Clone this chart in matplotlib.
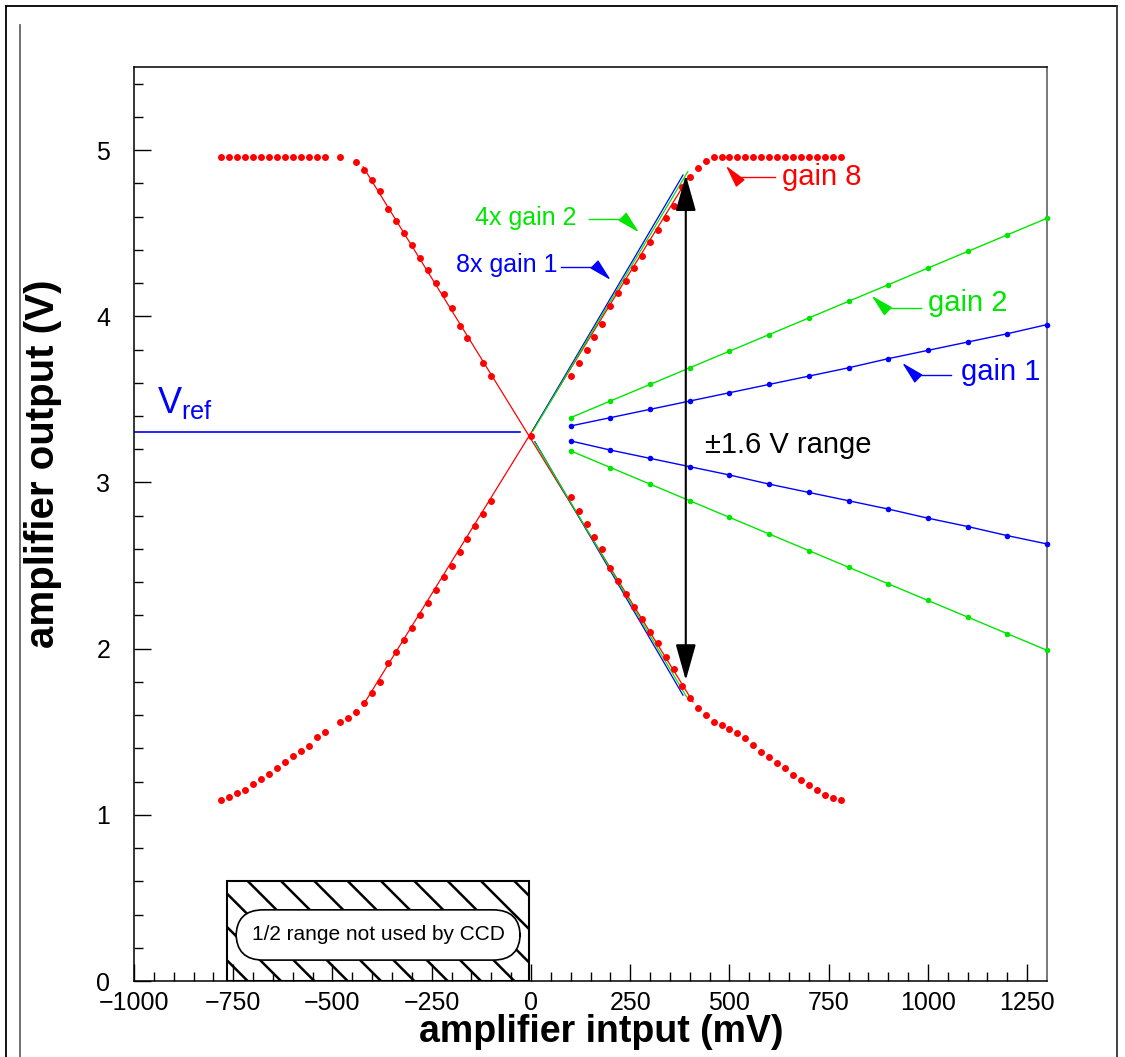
import matplotlib
matplotlib.use('Agg')
import matplotlib.pyplot as plt
from matplotlib.patches import Rectangle
from matplotlib.lines import Line2D

plt.rcParams['font.family'] = ['Liberation Sans', 'DejaVu Sans']
plt.rcParams['mathtext.fontset'] = 'custom'
plt.rcParams['mathtext.rm'] = 'Liberation Sans'
plt.rcParams['hatch.linewidth'] = 1.8

# gain 8 measurement, four branches (mV, V)
ul_x = [-780, -760, -740, -720, -700, -680, -660, -640, -620, -600, -580, -560, -540, -520,
        -480, -440, -420, -400, -380, -360, -340, -320, -300, -280, -260, -240, -220, -200,
        -180, -160, -120, -100]
ul_y = [4.96, 4.96, 4.96, 4.96, 4.96, 4.96, 4.96, 4.96, 4.96, 4.96, 4.96, 4.96, 4.96, 4.96,
        4.96, 4.926, 4.88, 4.82, 4.755, 4.645, 4.575, 4.503, 4.427, 4.348, 4.276, 4.20, 4.132, 4.051,
        3.943, 3.869, 3.717, 3.642]
ur_x = [100, 120, 140, 160, 180, 200, 220, 240, 260, 280, 300, 320, 340, 360, 380, 400, 420, 440,
        460, 480, 500, 520, 540, 560, 580, 600, 620, 640, 660, 680, 700, 720, 740, 760, 780]
ur_y = [3.64, 3.72, 3.80, 3.873, 3.951, 4.063, 4.143, 4.212, 4.292, 4.364, 4.444, 4.519, 4.589,
        4.663, 4.776, 4.84, 4.894, 4.936, 4.956, 4.96, 4.96, 4.96, 4.96, 4.96, 4.96, 4.96, 4.96,
        4.96, 4.96, 4.96, 4.96, 4.96, 4.96, 4.96, 4.96]
ll_x = [-780, -760, -740, -720, -700, -680, -660, -640, -620, -600, -580, -560, -540, -520,
        -480, -460, -440, -420, -400, -380, -360, -340, -320, -300, -280, -260, -240, -220,
        -200, -180, -160, -140, -120, -100]
ll_y = [1.09, 1.107, 1.131, 1.151, 1.183, 1.213, 1.245, 1.28, 1.316, 1.352, 1.384, 1.414, 1.466, 1.50,
        1.557, 1.581, 1.617, 1.671, 1.731, 1.797, 1.912, 1.981, 2.05, 2.124, 2.20, 2.274, 2.35, 2.43,
        2.50, 2.58, 2.66, 2.74, 2.81, 2.89]
lr_x = [100, 120, 140, 160, 180, 200, 220, 240, 260, 280, 300, 320, 340, 360, 380, 400, 420, 440,
        460, 480, 500, 520, 540, 560, 580, 600, 620, 640, 660, 680, 700, 720, 740, 760, 780]
lr_y = [2.91, 2.828, 2.75, 2.673, 2.599, 2.483, 2.407, 2.33, 2.252, 2.178, 2.102, 2.032, 1.951,
        1.879, 1.775, 1.701, 1.644, 1.60, 1.56, 1.54, 1.516, 1.49, 1.46, 1.42, 1.38, 1.35, 1.31,
        1.28, 1.24, 1.21, 1.18, 1.15, 1.12, 1.10, 1.09]
x0_mv, x0_v = 0, 3.28

# straight-line fits over the gain 8 linear region
fit_up_x, fit_up_y = [-420, 398], [1.671, 4.84]
fit_dn_x, fit_dn_y = [-423, 408], [4.90, 1.68]

# gain 1 and gain 2
g_x = [100, 200, 300, 400, 500, 600, 700, 800, 900, 1000, 1100, 1200, 1300]
g2_up = [3.39, 3.49, 3.59, 3.69, 3.79, 3.89, 3.99, 4.09, 4.19, 4.29, 4.39, 4.49, 4.59]
g1_up = [3.34, 3.39, 3.44, 3.49, 3.54, 3.59, 3.64, 3.69, 3.745, 3.795, 3.845, 3.895, 3.95]
g1_dn = [3.25, 3.195, 3.145, 3.095, 3.045, 2.99, 2.94, 2.89, 2.84, 2.785, 2.735, 2.68, 2.63]
g2_dn = [3.19, 3.09, 2.99, 2.89, 2.79, 2.69, 2.59, 2.49, 2.39, 2.29, 2.19, 2.09, 1.99]

# scaled gain 1 (8x) and gain 2 (4x)
s8_up_x, s8_up_y = [5, 383], [3.315, 4.85]
s8_dn_x, s8_dn_y = [10, 383], [3.245, 1.72]
s4_up_x, s4_up_y = [5, 395], [3.31, 4.87]
s4_dn_x, s4_dn_y = [10, 392], [3.24, 1.71]

vref = 3.303
range_lo, range_hi, range_x = 1.81, 4.85, 390

RED = '#ff0000'
GREEN = '#00e600'
BLUE = '#0000ff'

fig = plt.figure(figsize=(11.25, 10.57), dpi=100)
ax = fig.add_axes([0.1191, 0.0719, 0.8116, 0.8647])

ax.add_patch(Rectangle((-765, 0), 760, 0.6, facecolor='white', edgecolor='black',
                       hatch='\\', lw=1.5, zorder=1))
ax.text(-385, 0.277, '1/2 range not used by CCD', ha='center', va='center', fontsize=15,
        bbox=dict(boxstyle='round,pad=0.75,rounding_size=1.3', fc='white', ec='black', lw=1.2),
        zorder=2)

ax.plot([-1000, -28], [vref, vref], color=BLUE, lw=1.2)
ax.text(-942, 3.418, r'V$_{\mathrm{ref}}$', color=BLUE, fontsize=26, va='baseline')

ax.plot(fit_up_x, fit_up_y, color=RED, lw=0.9)
ax.plot(fit_dn_x, fit_dn_y, color=RED, lw=0.9)
ax.plot(s8_up_x, s8_up_y, color=BLUE, lw=0.9)
ax.plot(s8_dn_x, s8_dn_y, color=BLUE, lw=0.9)
ax.plot(s4_up_x, s4_up_y, color=GREEN, lw=0.9)
ax.plot(s4_dn_x, s4_dn_y, color=GREEN, lw=0.9)

for xs, ys in [(ul_x, ul_y), (ur_x, ur_y), (ll_x, ll_y), (lr_x, lr_y), ([x0_mv], [x0_v])]:
    ax.plot(xs, ys, 'o', color=RED, ms=5, mew=0, zorder=4)

for ys, c in [(g2_up, GREEN), (g1_up, BLUE), (g1_dn, BLUE), (g2_dn, GREEN)]:
    ax.plot(g_x, ys, '-o', color=c, lw=1.0, ms=4, mew=0, clip_on=False, zorder=4)

ax.annotate('', xy=(range_x, range_hi), xytext=(range_x, range_lo),
            arrowprops=dict(arrowstyle='<|-|>,head_length=1.6,head_width=0.45', color='black',
                            lw=1.5, shrinkA=0, shrinkB=0, mutation_scale=14), zorder=5)
ax.text(438, 3.225, u'\u00b11.6 V range', fontsize=21, va='center')


def label(text, tx, ty, size, hx0, hx1, hy, tip, color):
    ax.text(tx, ty, text, color=color, fontsize=size, va='center')
    ax.plot([hx0, hx1], [hy, hy], color=color, lw=1.0)
    ax.annotate('', xy=tip, xytext=(hx1, hy),
                arrowprops=dict(arrowstyle='-|>,head_length=1.4,head_width=0.35', color=color,
                                lw=1.0, shrinkA=0, shrinkB=0, mutation_scale=10))


label('gain 8', 632, 4.84, 21, 615, 514, 4.84, (491, 4.906), RED)
label('4x gain 2', -141, 4.59, 18, 146, 237, 4.585, (272, 4.505), GREEN)
label('8x gain 1', -189, 4.31, 18, 75, 166, 4.298, (201, 4.218), BLUE)
label('gain 2', 1000, 4.08, 21, 982, 892, 4.047, (858, 4.124), GREEN)
label('gain 1', 1083, 3.666, 21, 1059, 967, 3.646, (935, 3.72), BLUE)

ax.set_xlim(-1000, 1300)
ax.set_ylim(0, 5.5)
ax.set_xticks([-1000, -750, -500, -250, 0, 250, 500, 750, 1000, 1250])
ax.set_xticks(range(-1000, 1300, 50), minor=True)
ax.set_yticks([0, 1, 2, 3, 4, 5])
ax.set_yticks([i * 0.2 for i in range(28)], minor=True)
ax.tick_params(which='both', direction='in', top=False, right=False, width=1.0, labelsize=18)
ax.tick_params(which='major', length=12.5)
ax.tick_params(which='minor', length=6.5)
ax.tick_params(axis='x', pad=7)
ax.tick_params(axis='y', pad=17)
for s in ax.spines.values():
    s.set_linewidth(1.1)
ax.spines['right'].set_color('#555555')

ax.set_xlabel('amplifier intput (mV)', fontsize=27, fontweight='bold')
ax.xaxis.set_label_coords(0.512, -0.036)
ax.set_ylabel('amplifier output (V)', fontsize=29, fontweight='bold')
ax.yaxis.set_label_coords(-0.079, 0.566)

# outer canvas frame
W, H = 1125.0, 1057.0
frame = [([6, 6], [6, H], 'black'), ([6, 1117], [6, 6], 'black'),
         ([1117, 1117], [6, H], '#333333'), ([20, 20], [25, H], '#666666')]
for xs, ys, c in frame:
    fig.add_artist(Line2D([x / W for x in xs], [1 - y / H for y in ys], color=c, lw=1.3))

fig.savefig('out.png', dpi=100)
